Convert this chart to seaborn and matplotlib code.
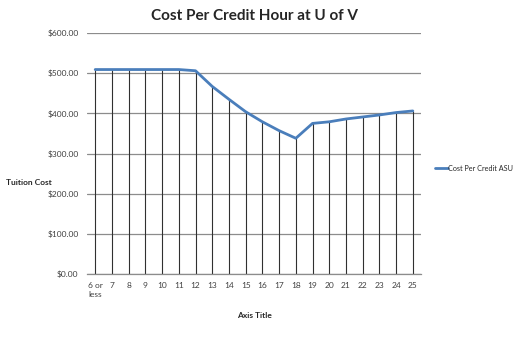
import matplotlib
matplotlib.use("Agg")
import matplotlib.pyplot as plt
import seaborn as sns
import pandas as pd

categories = ["6 or\nless", "7", "8", "9", "10", "11", "12", "13", "14", "15",
              "16", "17", "18", "19", "20", "21", "22", "23", "24", "25"]
cost = [509, 509, 509, 509, 509, 509, 506, 467, 435, 404,
        379, 357, 338, 375, 379, 386, 391, 396, 402, 406]
yticks = [0, 100, 200, 300, 400, 500, 600]

sns.set_theme(style="white")
plt.rcParams['font.family'] = ['Lato', 'DejaVu Sans']

df = pd.DataFrame({"credits": categories, "cost": cost})

fig = plt.figure(figsize=(5.2, 3.47), dpi=100)
ax = fig.add_axes([0.167, 0.21, 0.643, 0.695])

for t in yticks:
    ax.axhline(t, color="#8c8c8c", lw=0.9, zorder=0)

ax.vlines(categories, 0, cost, color="#303030", lw=0.8, zorder=1)
sns.lineplot(data=df, x="credits", y="cost", ax=ax, color="#4a7ebb", lw=2,
             sort=False, label="Cost Per Credit ASU", zorder=3)

ax.set_xlim(-0.5, len(categories) - 0.5)
ax.set_ylim(0, 600)
ax.set_yticks(yticks)
ax.set_yticklabels([f"${v:.2f}" for v in yticks], fontsize=6, color="#404040")
ax.set_xticks(range(len(categories)))
ax.set_xticklabels(categories, fontsize=6, color="#404040", va="top")
ax.tick_params(axis="both", length=0, pad=6)

for s in ["top", "right", "left"]:
    ax.spines[s].set_visible(False)
ax.spines["bottom"].set_color("#8c8c8c")
ax.spines["bottom"].set_linewidth(0.9)

ax.set_xlabel("Axis Title", fontsize=6, fontweight="bold", labelpad=10)
ax.set_ylabel("")
fig.text(0.012, 0.475, "Tuition Cost", fontsize=6, fontweight="bold", va="center", ha="left")

fig.suptitle("Cost Per Credit Hour at U of V", fontsize=11, fontweight="bold", y=0.975, x=0.49)

leg = ax.legend(loc="center left", bbox_to_anchor=(1.04, 0.44), frameon=False,
                fontsize=5.2, handlelength=1.8, handletextpad=0.1,
                borderpad=0, borderaxespad=0)

fig.savefig("out.png", dpi=100)
